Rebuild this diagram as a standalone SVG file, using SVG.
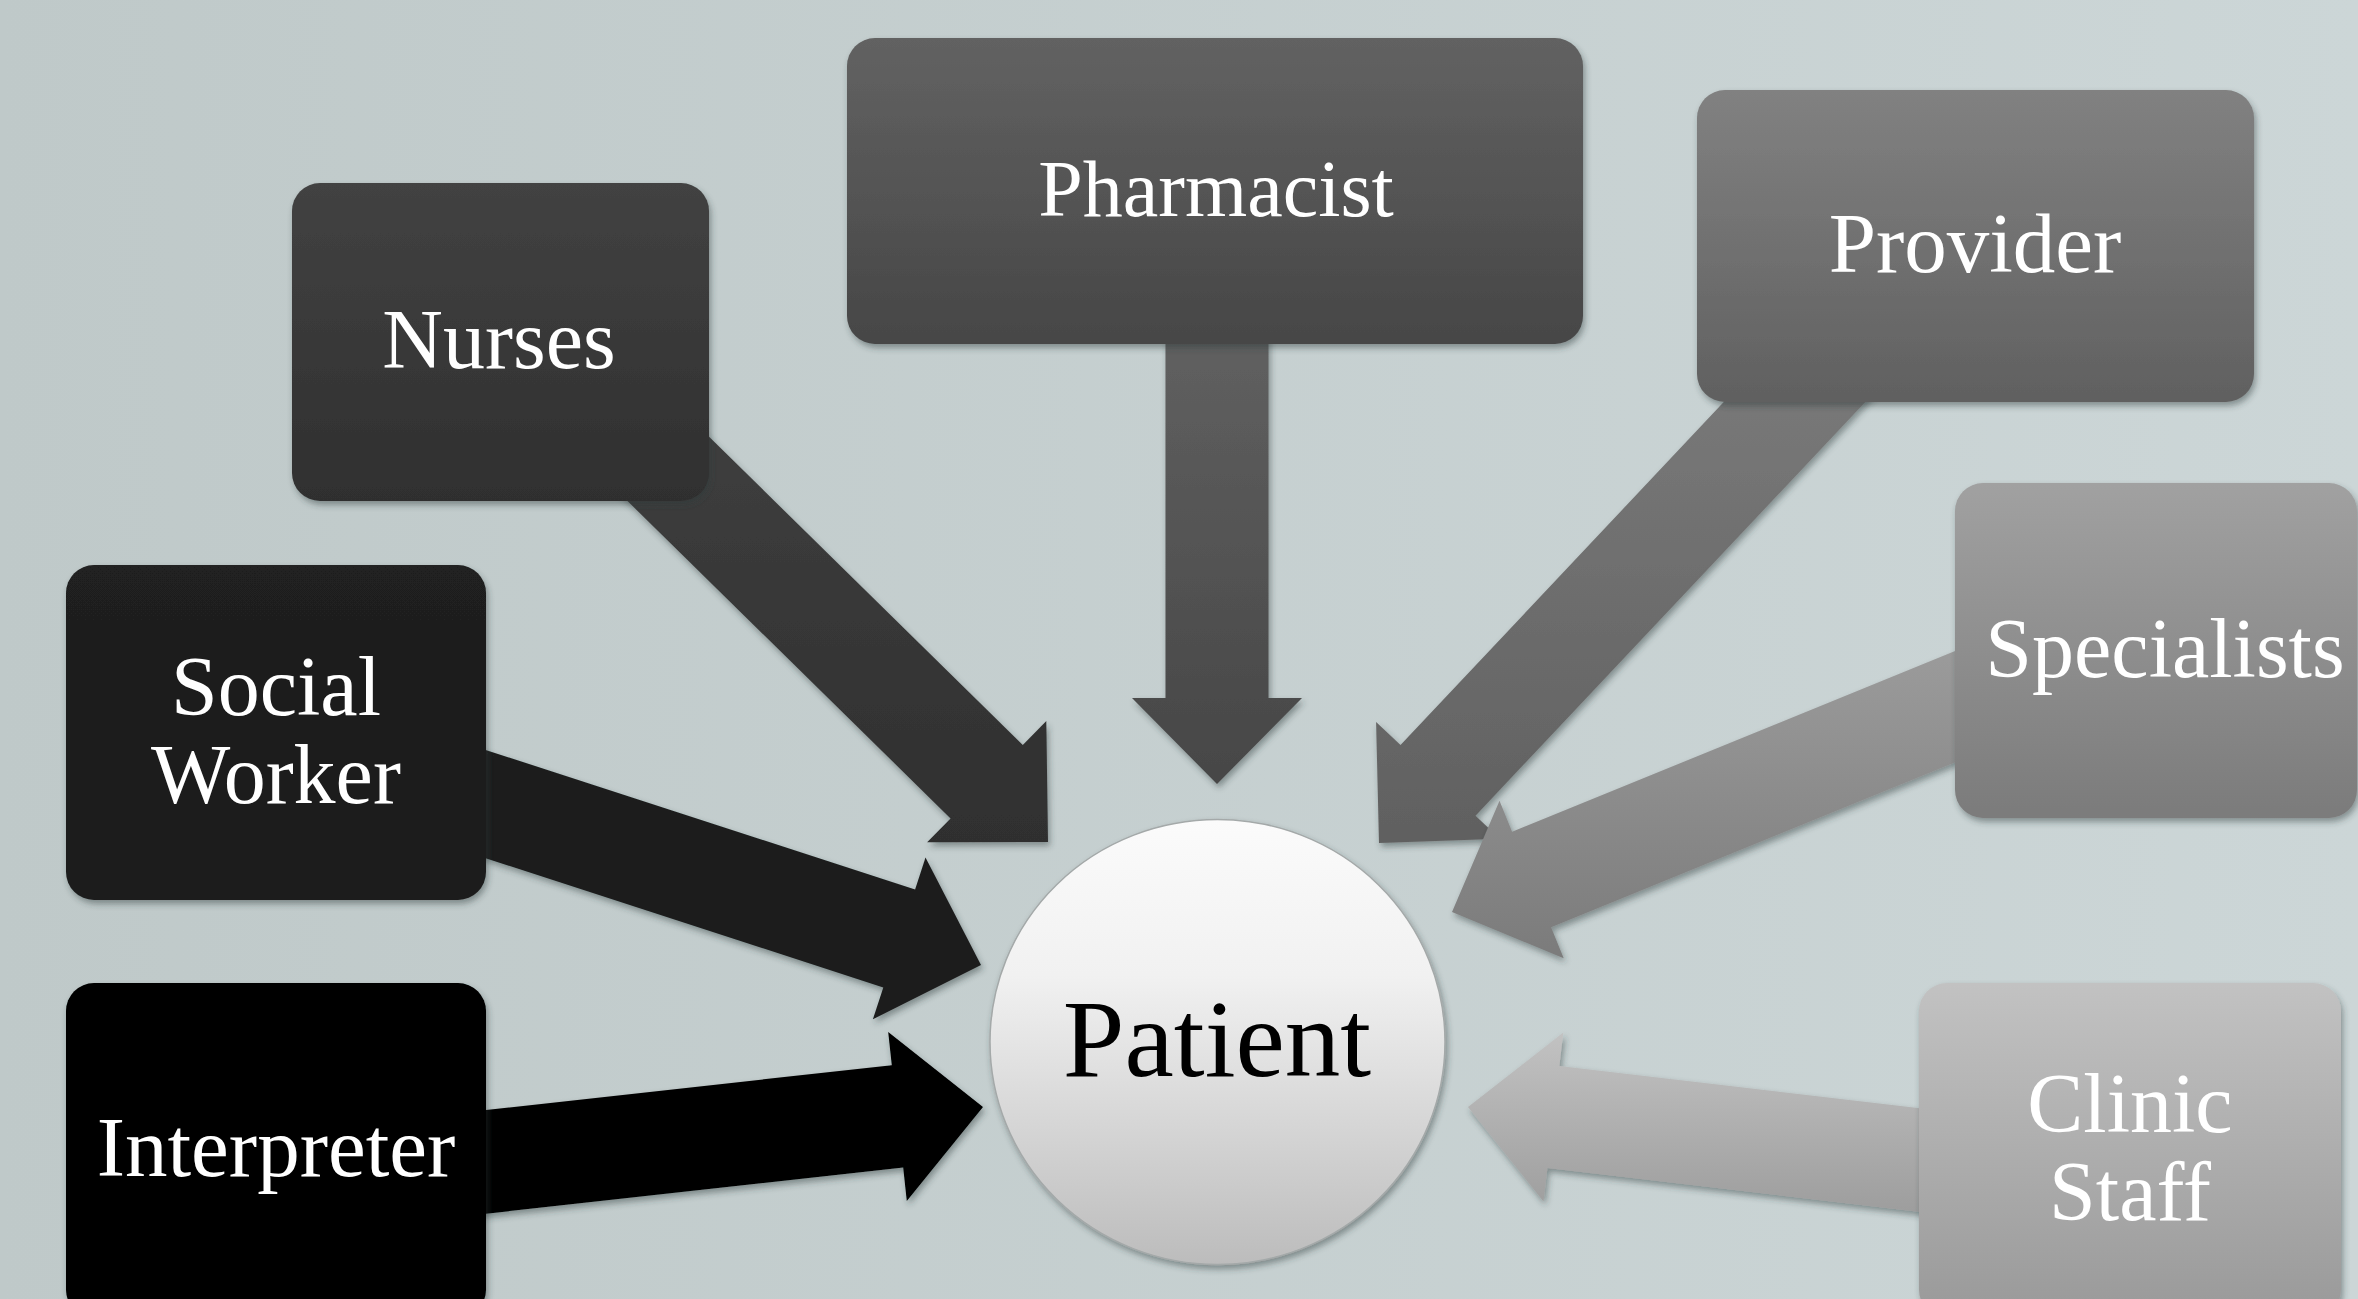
<svg xmlns="http://www.w3.org/2000/svg" width="2358" height="1299" viewBox="0 0 2358 1299">
<defs>
  <linearGradient id="bg" x1="0" y1="0" x2="1" y2="0">
    <stop offset="0" stop-color="#bfc9c9"/>
    <stop offset="1" stop-color="#ccd6d7"/>
  </linearGradient>
  <linearGradient id="gInt" x1="0" y1="0" x2="0" y2="1"><stop offset="0" stop-color="#000"/><stop offset="1" stop-color="#000"/></linearGradient>
  <linearGradient id="gSoc" x1="0" y1="0" x2="0" y2="1"><stop offset="0" stop-color="#202020"/><stop offset="1" stop-color="#1a1a1a"/></linearGradient>
  <linearGradient id="gNur" x1="0" y1="0" x2="0" y2="1"><stop offset="0" stop-color="#424242"/><stop offset="1" stop-color="#2f2f2f"/></linearGradient>
  <linearGradient id="gPha" x1="0" y1="0" x2="0" y2="1"><stop offset="0" stop-color="#626262"/><stop offset="1" stop-color="#464646"/></linearGradient>
  <linearGradient id="gPro" x1="0" y1="0" x2="0" y2="1"><stop offset="0" stop-color="#818181"/><stop offset="1" stop-color="#606060"/></linearGradient>
  <linearGradient id="gSpe" x1="0" y1="0" x2="0" y2="1"><stop offset="0" stop-color="#a1a1a1"/><stop offset="1" stop-color="#7b7b7b"/></linearGradient>
  <linearGradient id="gCli" x1="0" y1="0" x2="0" y2="1"><stop offset="0" stop-color="#c2c2c2"/><stop offset="1" stop-color="#999999"/></linearGradient>
  <linearGradient id="gPat" x1="0" y1="0" x2="0" y2="1"><stop offset="0" stop-color="#fbfbfb"/><stop offset="0.35" stop-color="#f1f1f1"/><stop offset="1" stop-color="#bcbcbc"/></linearGradient>
  <filter id="sh" x="-10%" y="-10%" width="125%" height="125%">
    <feDropShadow dx="2" dy="4" stdDeviation="3" flood-color="#2a3838" flood-opacity="0.45"/>
  </filter>
</defs>
<style>
  .box { filter: url(#sh); }
  .arr { filter: url(#sh); }
  .lbl { font-family: "Liberation Serif", "Times New Roman", serif; fill: #ffffff; text-anchor: middle; }
  .pat { font-family: "Liberation Serif", "Times New Roman", serif; fill: #000000; text-anchor: middle; }
</style>
<rect x="0" y="0" width="2358" height="1299" fill="url(#bg)"/>

<g id="connectors">
  <polygon class="arr" fill="url(#gPha)" points="1268.5,300 1268.5,698 1302,698 1217,784 1132,698 1165.5,698 1165.5,300"/>
  <polygon class="arr" fill="url(#gNur)" points="584.8,314.7 1022.8,745 1046.3,721.1 1048,842 927.1,842.3 950.6,818.4 512.6,388.1"/>
  <polygon class="arr" fill="url(#gSoc)" points="350.2,705.9 915.1,889.4 925.5,857.6 981,965 872.9,1019.2 883.3,987.4 318.4,803.9"/>
  <polygon class="arr" fill="url(#gInt)" points="281.5,1132.6 891.8,1065.2 888.2,1031.9 983,1107 906.8,1200.9 903.2,1167.6 292.9,1235"/>
  <polygon class="arr" fill="url(#gPro)" points="1965.1,296.1 1475.5,815.7 1499.9,838.7 1379,843 1376.1,722.1 1400.5,745.1 1890.1,225.5"/>
  <polygon class="arr" fill="url(#gSpe)" points="2138.1,687.7 1551.1,927.2 1563.7,958.2 1452,912 1499.5,800.8 1512.1,831.8 2099.1,592.3"/>
  <polygon class="arr" fill="url(#gCli)" points="2107.6,1233.9 1547.4,1168.1 1543.5,1201.4 1468,1107 1563.3,1032.6 1559.4,1065.9 2119.6,1131.7"/>
</g>

<g id="node-pharmacist">
  <rect class="box" x="847" y="38" width="736" height="306" rx="28" fill="url(#gPha)"/>
  <text class="lbl" x="1216" y="216" font-size="80">Pharmacist</text>
</g>
<g id="node-nurses">
  <rect class="box" x="292" y="183" width="417" height="318" rx="28" fill="url(#gNur)"/>
  <text class="lbl" x="499" y="368" font-size="84">Nurses</text>
</g>
<g id="node-provider">
  <rect class="box" x="1697" y="90" width="557" height="312" rx="28" fill="url(#gPro)"/>
  <text class="lbl" x="1975" y="272" font-size="85">Provider</text>
</g>
<g id="node-specialists">
  <rect class="box" x="1955" y="483" width="402" height="335" rx="28" fill="url(#gSpe)"/>
  <text class="lbl" x="2165" y="677" font-size="84">Specialists</text>
</g>
<g id="node-social-worker">
  <rect class="box" x="66" y="565" width="420" height="335" rx="28" fill="url(#gSoc)"/>
  <text class="lbl" x="276" y="715" font-size="84">Social</text>
  <text class="lbl" x="276" y="803" font-size="84">Worker</text>
</g>
<g id="node-interpreter">
  <rect class="box" x="66" y="983" width="420" height="335" rx="28" fill="url(#gInt)"/>
  <text class="lbl" x="276" y="1176" font-size="85">Interpreter</text>
</g>
<g id="node-clinic-staff">
  <rect class="box" x="1919" y="983" width="422" height="335" rx="28" fill="url(#gCli)"/>
  <text class="lbl" x="2130" y="1132" font-size="84">Clinic</text>
  <text class="lbl" x="2130" y="1220" font-size="84">Staff</text>
</g>
<g id="node-patient">
  <ellipse class="box" cx="1217.5" cy="1042" rx="227.5" ry="222.5" fill="url(#gPat)" stroke="#a4a9a9" stroke-width="1.5"/>
  <text class="pat" x="1217" y="1076" font-size="111">Patient</text>
</g>
</svg>
